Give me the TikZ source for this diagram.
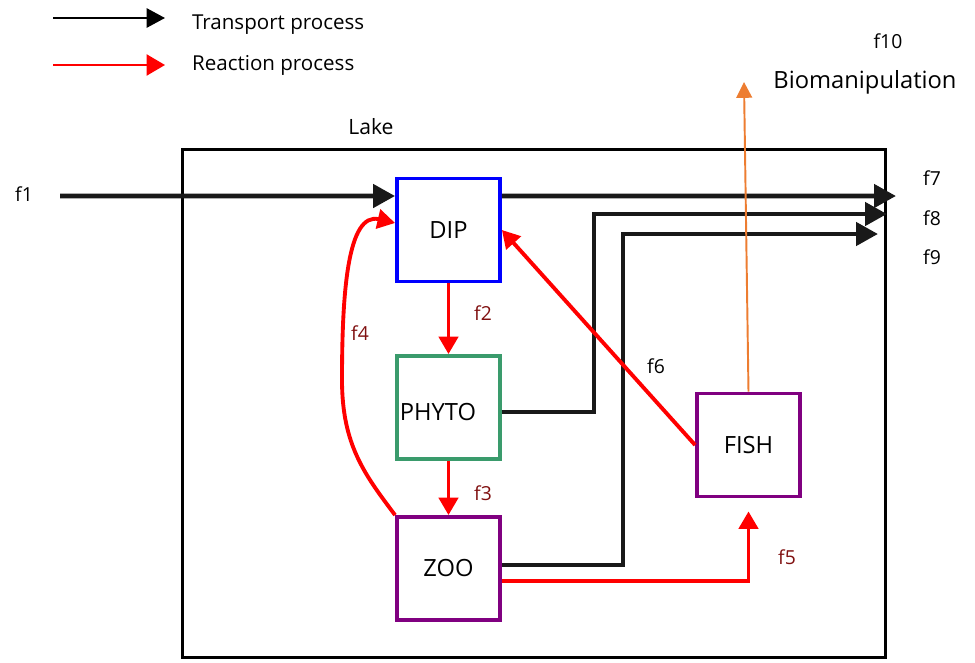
\documentclass[tikz,border=0pt]{standalone}
\usepackage{fontspec}
\setmainfont{Open Sans}
\usetikzlibrary{arrows.meta,positioning}
\definecolor{dipblue}{RGB}{0,0,255}
\definecolor{phygreen}{RGB}{58,155,108}
\definecolor{zoopurple}{RGB}{128,0,128}
\definecolor{lblred}{RGB}{128,16,16}
\definecolor{bioorange}{RGB}{237,125,49}
\tikzset{
  pool/.style     = {rectangle, draw, line width=2.2pt, minimum size=2.06cm,
                     inner sep=0pt, font=\fontsize{13.5}{15}\selectfont},
  lakebox/.style  = {rectangle, draw=black, line width=1.7pt,
                     minimum width=14.08cm, minimum height=10.18cm},
  txt/.style      = {font=\fontsize{11}{13}\selectfont, inner sep=1pt},
  flbl/.style     = {txt, text=lblred},
  transport/.style= {-{Triangle[length=12.5pt,width=13pt]}, line width=2.8pt,
                     draw=black!90},
  reaction/.style = {-{Triangle[length=10pt,width=11pt]}, line width=2.2pt,
                     draw=red},
  legT/.style     = {-{Triangle[length=10.5pt,width=11pt]}, line width=1.2pt,
                     draw=black},
  legR/.style     = {-{Triangle[length=10.5pt,width=12pt]}, line width=1.2pt,
                     draw=red},
  bio/.style      = {-{Triangle[length=9pt,width=9pt]}, line width=1.1pt,
                     draw=bioorange}
}
\begin{document}
\begin{tikzpicture}[x=0.02cm,y=-0.02cm]
    \useasboundingbox (0,0) rectangle (975,663);

    % ---- Legend ----
    \coordinate (trA) at (53,18);
    \coordinate (trB) at (165,18);
    \coordinate (reA) at (53,65);
    \coordinate (reB) at (165,65);
    \node[txt, anchor=west, font=\fontsize{11.7}{14}\selectfont] (trlbl) at (190,25) {Transport process};
    \node[txt, anchor=west, font=\fontsize{11.7}{14}\selectfont] (relbl) at (190,65) {Reaction process};
    \draw[legT] (trA) -- (trB);
    \draw[legR] (reA) -- (reB);

    % ---- Lake ----
    \node[lakebox] (lake) at (534,403.5) {};
    \node[txt, font=\fontsize{12}{14}\selectfont] (lakelbl) at (371,127) {Lake};

    % ---- Pools ----
    \node[pool, draw=dipblue]   (dip)   at (448.5,230)   {DIP};
    \node[pool, draw=phygreen]  (phyto) at (448.5,407.5) {\hspace*{-0.42cm}\raisebox{-0.26cm}[0pt][0pt]{PHYTO}};
    \node[pool, draw=zoopurple] (zoo)   at (448.5,568.5) {ZOO};
    \node[pool, draw=zoopurple] (fish)  at (748.5,445)   {FISH};

    % ---- Free ends ----
    \coordinate (f1in)   at (60,196);
    \coordinate (f7end)  at (896,196);
    \coordinate (f8turn) at (594,214);
    \coordinate (f8end)  at (887,214);
    \coordinate (f9turn) at (623,234);
    \coordinate (f9end)  at (878,234);
    \coordinate (bioend) at (744,82);

    % ---- Flow labels ----
    \node[txt]  (f1)  at (24,194)  {f1};
    \node[txt]  (f7)  at (932,178) {f7};
    \node[txt]  (f8)  at (932,218) {f8};
    \node[txt]  (f9)  at (932,257) {f9};
    \node[txt]  (f10) at (888,41)  {f10};
    \node[txt, font=\fontsize{13.5}{16}\selectfont] (bioman) at (865,82) {Biomanipulation};
    \node[flbl] (f2)  at (483,313) {f2};
    \node[flbl] (f3)  at (483,493) {f3};
    \node[flbl] (f4)  at (360,333) {f4};
    \node[flbl] (f5)  at (787,557) {f5};
    \node[txt]  (f6)  at (656,366) {f6};

    % ---- Transport ----
    \draw[transport] (f1in) -- ([yshift=0.68cm]dip.west);
    \draw[transport] ([yshift=0.68cm]dip.east) -- (f7end);
    \draw[transport] ([yshift=-0.09cm]phyto.east) -| (f8turn) -- (f8end);
    \draw[transport] ([yshift=0.07cm]zoo.east) -| (f9turn) -- (f9end);

    % ---- Reactions ----
    \draw[reaction] (dip.south) -- (phyto.north);
    \draw[reaction] (phyto.south) -- (zoo.north);
    \draw[reaction] (zoo.north west) .. controls (365,475) and (342,445) .. (342,380)
                    .. controls (342,290) and (348,212) .. ([yshift=0.14cm]dip.west);
    \draw[reaction] ([yshift=-0.25cm]zoo.east) -| ([yshift=-0.26cm]fish.south);
    \draw[reaction] (fish.west) -- (dip.east);

    % ---- Biomanipulation ----
    \draw[bio] (fish.north) -- (bioend);
  \end{tikzpicture}
\end{document}
